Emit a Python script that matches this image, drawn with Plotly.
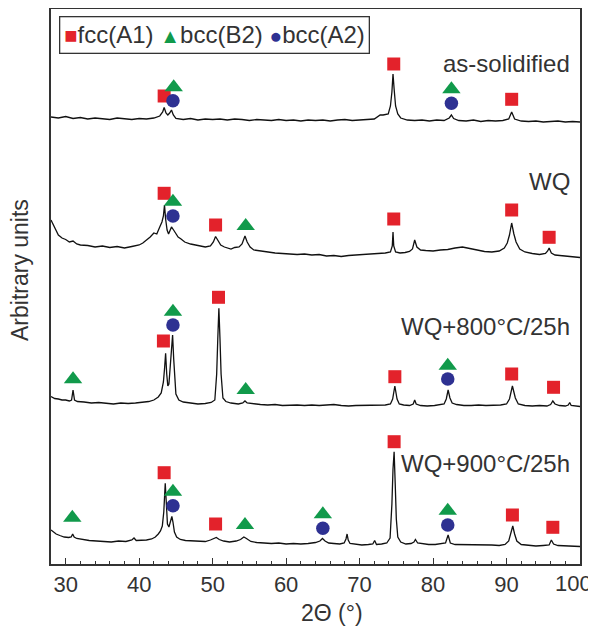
import plotly.graph_objects as go

# ---------------- data (arbitrary stacked units) ----------------
# as-solidified
as_x = [28, 29, 30, 31, 32, 33, 34, 35, 36, 37, 38, 39, 40, 41, 42, 42.8, 43.2, 43.4, 43.65, 43.9, 44.15, 44.4,
        44.65, 45, 46, 47, 48, 49, 50, 51, 52, 53, 54, 55, 56, 57, 58, 59, 60, 61, 62, 63, 64, 65, 66, 67, 68,
        69, 70, 71, 72, 72.8, 73.2, 73.9, 74.2, 74.4, 74.55, 74.7, 74.9, 75.2, 75.6, 76.5, 77.5, 78.5, 79.5,
        80.5, 81.5, 82.2, 82.5, 82.8, 83.5, 84.5, 85.5, 86.5, 87.5, 88.5, 89.5, 90.3, 90.7, 91.1, 92, 93, 94,
        95, 96, 97, 98, 99, 100]
as_y = [447, 446, 447.5, 445.5, 446.5, 445, 446, 445.5, 444.5, 446, 445, 444.5, 445.5, 445, 446, 448, 452,
        456.5, 451, 449, 451, 454, 449, 445.5, 444.5, 445.5, 444, 445, 444.5, 445, 444, 445, 444.5, 443.5,
        444.5, 444, 443.5, 444.5, 443.5, 444, 443, 444, 443.5, 444, 443, 444, 444.5, 443.5, 444, 444.5, 445,
        449, 449, 450, 458, 472, 490, 475, 458, 450, 446, 444, 443.5, 444, 443, 444, 443.5, 446, 449, 445.5,
        443.5, 443, 444, 442.5, 443.5, 443, 443.5, 445, 452, 445, 443, 442.5, 443, 442, 442.5, 443, 442,
        442.5, 442]

# WQ
wq_x = [28, 28.3, 28.6, 29, 29.5, 30, 30.5, 31, 31.5, 32, 33, 34, 35, 36, 37, 38, 39, 40, 40.5, 41, 41.5, 42,
        42.4, 42.8, 43.1, 43.3, 43.45, 43.6, 43.8, 44.0, 44.2, 44.4, 44.6, 44.9, 45.3, 45.7, 46.2, 47, 48, 49,
        49.7, 50.1, 50.4, 50.7, 51.1, 51.6, 52, 52.5, 53, 53.6, 54.0, 54.4, 54.7, 55.1, 55.6, 56.5, 57.5,
        58.5, 59.5, 60.5, 61.5, 62.5, 63.5, 64.5, 65.5, 66.5, 67.5, 68.5, 69.5, 70.5, 71.5, 72.5, 73.5, 74.2,
        74.45, 74.55, 74.65, 74.9, 75.5, 76.2, 76.8, 77.2, 77.5, 77.8, 78.3, 79, 80, 81, 82, 83, 84, 85, 86,
        87, 88, 89, 89.7, 90.1, 90.4, 90.7, 91.0, 91.3, 91.8, 92.5, 93.5, 94.5, 95.3, 95.6, 95.8, 96.1, 96.6,
        97.5, 98.5, 99.3, 100]
wq_y = [344, 339, 334, 329, 326, 324.5, 322, 323, 320, 319, 318.5, 317, 318, 316.5, 317.5, 316, 317.5, 319,
        321, 324, 327, 331, 330, 337, 342, 348, 359, 345, 334, 330, 333, 337, 335, 331, 327, 325, 322, 320,
        318.5, 317, 318, 322, 327.5, 324, 319, 317, 316, 315, 316.5, 317, 320, 328, 322, 317, 314, 313, 312,
        311, 310.5, 310, 309.5, 310, 309, 309.5, 308, 308.5, 307.5, 308.5, 309, 309, 310, 310.5, 311, 312,
        318, 332, 318, 312, 311, 311.5, 312.5, 315, 324, 317, 314, 313.5, 313, 314, 314.5, 316, 317, 315.5,
        314, 312.5, 312, 313, 316, 321, 329, 341, 330, 322, 315, 312, 310.5, 309.5, 310.5, 313, 316, 311, 309,
        308.5, 308, 307.5, 306.5]

# WQ+800°C/25h
w8_x = [28, 28.5, 29, 29.5, 30, 30.5, 30.8, 31.0, 31.2, 31.6, 32.5, 33.5, 34.5, 35.5, 36.5, 37.5, 38.5, 39.5,
        40.5, 41.3, 42, 42.6, 43.0, 43.3, 43.45, 43.6, 43.75, 43.9, 44.05, 44.2, 44.4, 44.55, 44.7, 44.85,
        45.0, 45.4, 46, 47, 48, 49, 49.8, 50.3, 50.55, 50.7, 50.85, 51.0, 51.15, 51.4, 51.8, 52.5, 53.5, 54.1,
        54.4, 54.7, 55.5, 56.5, 57.5, 58.5, 59.5, 60.5, 61.5, 62.5, 63.5, 64.5, 65.5, 66.5, 67.5, 68.5, 69.5,
        70.5, 71.5, 72.5, 73.5, 74.2, 74.5, 74.8, 75.1, 75.4, 76, 76.8, 77.3, 77.5, 77.7, 78.3, 79.2, 80.2,
        81.0, 81.5, 81.8, 82.05, 82.3, 82.6, 83.2, 84.2, 85.2, 86.2, 87.2, 88.2, 89.2, 90.0, 90.4, 90.8, 91.2,
        91.6, 92.5, 93.5, 94.5, 95.5, 96.0, 96.3, 96.6, 97.2, 98.0, 98.4, 98.6, 98.8, 99.5, 100]
w8_y = [167.5, 165.5, 165, 164, 164, 163, 164, 174, 164, 162.5, 162, 161, 161.5, 160.5, 160, 161, 160.5, 161,
        161.5, 162.5, 164, 167, 171, 182, 195, 210.7, 190, 178, 180, 195, 215, 229, 205, 180, 170, 164, 162,
        161, 160, 160.5, 161.5, 164, 190, 225, 255.7, 225, 190, 166, 162.5, 161, 160, 161, 163, 161, 160,
        159.5, 159, 159.5, 158.5, 159, 159, 158.5, 159, 158.5, 159, 159.5, 158.5, 158, 158.5, 158.5, 159,
        158.5, 159, 160, 165, 178, 165, 160, 159, 158.5, 160, 164, 160, 158.5, 158, 158.5, 159, 160, 165, 174,
        166, 161, 159.5, 158.5, 158.5, 159, 158.5, 158.5, 159, 160, 165, 178, 166, 160, 158.5, 158, 158.5,
        158, 159.5, 163, 160, 158.5, 158, 159, 161.5, 158.5, 157.5, 157.5]

# WQ+900°C/25h
w9_x = [28, 28.3, 28.7, 29.2, 29.8, 30.4, 30.75, 30.95, 31.15, 31.5, 32.3, 33.2, 34.2, 35.2, 36.2, 37.2, 38.2,
        39.0, 39.3, 39.6, 40.3, 41.0, 41.7, 42.2, 42.6, 42.9, 43.15, 43.35, 43.55, 43.7, 43.85, 44.05, 44.25,
        44.45, 44.6, 44.8, 45.1, 45.6, 46.3, 47.2, 48.2, 49.0, 49.7, 50.1, 50.5, 50.9, 51.5, 52.3, 53.2, 53.8,
        54.25, 54.6, 55.2, 56, 57, 58, 59, 60, 61, 62, 63, 64, 64.6, 64.95, 65.3, 65.8, 66.5, 67.3, 67.9,
        68.15, 68.3, 68.45, 68.7, 69.5, 70.3, 71.2, 71.8, 72.05, 72.3, 73.0, 73.7, 74.15, 74.4, 74.55, 74.7,
        74.85, 75.0, 75.2, 75.6, 76.3, 77.0, 77.4, 77.6, 77.9, 78.6, 79.4, 80.3, 81.2, 81.7, 82.05, 82.35, 83,
        84, 85, 86, 87, 88, 89, 89.8, 90.3, 90.65, 90.85, 91.1, 91.4, 92, 93, 94, 95, 95.8, 96.1, 96.4, 97,
        98, 99, 100]
w9_y = [34, 32, 30, 28.5, 27, 26.5, 27, 30, 27, 25.5, 24.5, 23.5, 23, 22.5, 22, 23, 22.5, 24, 26, 23.5, 23.5,
        24, 25, 27, 30, 33, 38, 52, 80.7, 55, 40, 37, 43, 47.5, 42, 32, 27, 24.5, 23.5, 23, 22.5, 22.5, 24,
        25.5, 26.5, 24.5, 23, 22, 23, 24.5, 27, 25.5, 22.5, 21.5, 21, 20.5, 21, 20, 20.5, 20, 20.5, 21.5, 23,
        25.5, 23, 21, 20.5, 20, 21, 25, 30, 24, 20.5, 19.5, 19, 19.5, 20, 23.5, 19.5, 20, 21, 26, 60, 95,
        112.3, 80, 45, 27, 22, 20, 20.5, 22, 24.5, 21, 20, 19.5, 19.5, 20, 21, 29, 21, 19.5, 19.5, 19, 19.5,
        19, 19, 18.5, 19.5, 23, 33, 38, 30, 23, 19.5, 18.5, 18, 18.5, 19, 24, 20, 18.5, 18, 18, 17.5]

# phase markers
fcc_x = [43.4, 74.65, 90.7, 43.4, 50.4, 74.65, 90.7, 95.8, 43.3, 50.8, 74.8, 90.7, 96.4, 43.4, 50.4, 74.7,
         90.8, 96.3]
fcc_y = [468, 500, 464.7, 370.7, 339, 345, 354, 326.7, 223, 266.7, 187.3, 190, 176.7, 91.3, 40, 122.3, 49,
         36.7]
b2_x = [44.7, 82.5, 44.6, 54.5, 31.0, 44.6, 54.5, 82.0, 30.9, 44.6, 54.4, 65.0, 82.0]
b2_y = [476.7, 474.7, 362.3, 338, 184.7, 252.3, 174, 198.3, 46.3, 72.3, 39, 49.7, 53.3]
a2_x = [44.6, 82.5, 44.6, 44.6, 82.0, 44.6, 65.0, 82.0]
a2_y = [463.3, 460.7, 348, 239, 185, 58.3, 35.7, 39]

labels = ["as-solidified", "WQ", "WQ+800°C/25h", "WQ+900°C/25h"]
label_y = [500.7, 382.3, 237.3, 100.7]
x_ticks = [30, 40, 50, 60, 70, 80, 90, 100]
# the last label sits at the right edge; it is drawn slightly inset (as in the reference) below
x_tick_text = ["30", "40", "50", "60", "70", "80", "90", ""]
edge_tick_label = "100"

# ---------------- figure ----------------
RED, GREEN, BLUE = "#e3222b", "#119a4b", "#2e3192"
FONT = "Liberation Sans, Arial, sans-serif"
TXT = "#333333"

fig = go.Figure()
for xs, ys, name in [(as_x, as_y, labels[0]), (wq_x, wq_y, labels[1]),
                     (w8_x, w8_y, labels[2]), (w9_x, w9_y, labels[3])]:
    fig.add_trace(go.Scatter(x=xs, y=ys, mode="lines", name=name,
                             line=dict(color="#111111", width=1.3), showlegend=False))

fig.add_trace(go.Scatter(x=fcc_x, y=fcc_y, mode="markers", name="fcc(A1)", showlegend=False,
                         marker=dict(symbol="square", size=13, color=RED, line=dict(width=0))))
fig.add_trace(go.Scatter(x=b2_x, y=b2_y, mode="markers", name="bcc(B2)", showlegend=False,
                         marker=dict(symbol="triangle-up", size=16, color=GREEN, line=dict(width=0))))
fig.add_trace(go.Scatter(x=a2_x, y=a2_y, mode="markers", name="bcc(A2)", showlegend=False,
                         marker=dict(symbol="circle", size=13.5, color=BLUE, line=dict(width=0))))

for lab, ly in zip(labels, label_y):
    fig.add_annotation(x=98.9, y=ly, xref="x", yref="y", text=lab, showarrow=False,
                       xanchor="right", yanchor="middle", font=dict(family=FONT, size=24, color=TXT))

# legend box
legend_text = (f'<span style="color:{RED};font-size:22px">■</span>fcc(A1) '
               f'<span style="color:{GREEN};font-size:20px">▲</span>bcc(B2) '
               f'<span style="color:{BLUE};font-size:21px">●</span>bcc(A2)')
fig.add_annotation(x=0.0151, y=0.987, xref="paper", yref="paper", text=legend_text, showarrow=False,
                   xanchor="left", yanchor="top", align="left",
                   font=dict(family=FONT, size=24, color=TXT),
                   bordercolor="#333333", borderwidth=1.3, borderpad=4, bgcolor="white")

# right-edge tick label
fig.add_annotation(x=0.9868, y=-0.036, xref="paper", yref="paper", text=edge_tick_label, showarrow=False,
                   xanchor="center", yanchor="middle", font=dict(family=FONT, size=22, color=TXT))

# axis titles
fig.add_annotation(x=0.532, y=-0.0883, xref="paper", yref="paper", text="2Θ (°)", showarrow=False,
                   xanchor="center", yanchor="middle", font=dict(family=FONT, size=23, color=TXT))
fig.add_annotation(x=-0.0586, y=0.5297, xref="paper", yref="paper", text="Arbitrary units", showarrow=False,
                   textangle=-90, xanchor="center", yanchor="middle",
                   font=dict(family=FONT, size=23, color=TXT))

# page has an 8px body margin: figure is sized to fit the 596x631 window from that offset
fig.update_layout(
    width=588, height=623,
    margin=dict(l=43, r=16, t=1, b=67, autoexpand=False),
    plot_bgcolor="white", paper_bgcolor="white",
    showlegend=False,
    xaxis=dict(range=[28, 100], tickvals=x_ticks, ticktext=x_tick_text, ticks="inside", ticklen=6,
               tickwidth=1.3, tickcolor="#333333", showline=True, linecolor="#333333", linewidth=1.5,
               mirror=True, showgrid=False, zeroline=False, automargin=False,
               tickfont=dict(family=FONT, size=22, color=TXT),
               minor=dict(ticks="inside", dtick=2, tick0=30, ticklen=3, tickwidth=1, tickcolor="#333333",
                          showgrid=False)),
    yaxis=dict(range=[0, 555], showticklabels=False, ticks="", showline=True, linecolor="#333333",
               linewidth=1.5, mirror=True, showgrid=False, zeroline=False, automargin=False),
)

fig.write_html("out.html")
